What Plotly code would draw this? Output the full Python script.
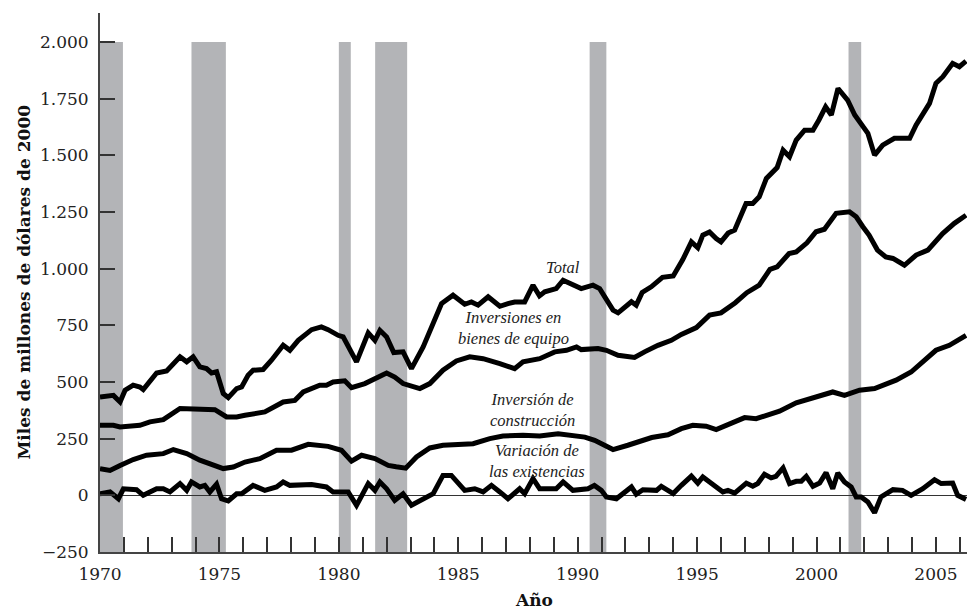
import plotly.graph_objects as go

# ---------------- data ----------------
total_years = [1970.0, 1970.56, 1970.84, 1971.05, 1971.39, 1971.67, 1971.81, 1972.37, 1972.79, 1973.35,
               1973.63, 1973.9, 1974.18, 1974.46, 1974.67, 1974.88, 1975.16, 1975.37, 1975.72, 1975.93,
               1976.2, 1976.41, 1976.83, 1977.18, 1977.67, 1977.95, 1978.3, 1978.86, 1979.27, 1979.55,
               1979.97, 1980.18, 1980.74, 1981.23, 1981.51, 1981.72, 1982.0, 1982.3, 1982.69, 1983.04,
               1983.53, 1983.95, 1984.3, 1984.78, 1985.27, 1985.55, 1985.83, 1986.25, 1986.74, 1987.08,
               1987.36, 1987.78, 1988.13, 1988.4, 1988.62, 1989.1, 1989.39, 1990.15, 1990.64, 1990.92,
               1991.13, 1991.48, 1991.69, 1992.25, 1992.45, 1992.7, 1993.08, 1993.55, 1994.0, 1994.4,
               1994.76, 1995.03, 1995.24, 1995.52, 1995.8, 1996.0, 1996.3, 1996.57, 1997.05, 1997.33,
               1997.6, 1997.9, 1998.35, 1998.6, 1998.87, 1999.15, 1999.5, 1999.85, 2000.1, 2000.38,
               2000.62, 2000.9, 2001.3, 2001.6, 2002.15, 2002.43, 2002.77, 2003.26, 2003.9, 2004.17,
               2004.73, 2005.0, 2005.29, 2005.7, 2005.98, 2006.26]
total_values = [434, 441, 412, 464, 486, 478, 467, 540, 549, 611,
                589, 611, 567, 559, 540, 545, 449, 431, 471, 478,
                530, 552, 555, 596, 662, 640, 684, 731, 743, 731,
                706, 699, 589, 717, 684, 728, 699, 630, 633, 559,
                655, 758, 846, 883, 843, 853, 839, 876, 834, 846,
                853, 853, 927, 880, 898, 912, 949, 912, 927, 912,
                876, 817, 805, 854, 839, 895, 920, 962, 968, 1040,
                1118, 1092, 1148, 1162, 1133, 1118, 1157, 1170, 1288, 1288,
                1317, 1398, 1446, 1523, 1494, 1567, 1611, 1611, 1656, 1714,
                1678, 1795, 1744, 1678, 1597, 1501, 1545, 1575, 1575, 1634,
                1729, 1818, 1847, 1906, 1891, 1916]

equip_years = [1970.0, 1970.56, 1970.84, 1971.67, 1972.09, 1972.65, 1973.35, 1974.05, 1974.81, 1975.3,
               1975.72, 1976.07, 1976.9, 1977.67, 1978.16, 1978.51, 1979.2, 1979.48, 1979.76, 1980.25,
               1980.53, 1981.09, 1981.64, 1982.0, 1982.34, 1982.69, 1983.39, 1983.81, 1984.36, 1984.92,
               1985.48, 1986.04, 1986.74, 1987.36, 1987.71, 1988.41, 1989.04, 1989.53, 1989.95, 1990.15,
               1990.85, 1991.2, 1991.69, 1992.38, 1992.8, 1993.36, 1993.92, 1994.34, 1994.97, 1995.52,
               1996.0, 1996.6, 1997.08, 1997.6, 1998.05, 1998.35, 1998.85, 1999.15, 1999.6, 1999.98,
               2000.33, 2000.82, 2001.38, 2001.66, 2001.94, 2002.2, 2002.55, 2002.9, 2003.2, 2003.68,
               2004.17, 2004.66, 2005.28, 2005.77, 2006.26]
equip_values = [309, 309, 302, 309, 324, 334, 383, 383, 378, 346,
                346, 353, 368, 412, 419, 456, 486, 486, 500, 505,
                475, 493, 520, 540, 522, 493, 471, 493, 552, 593,
                611, 603, 581, 559, 589, 603, 633, 640, 655, 643,
                648, 640, 618, 608, 633, 662, 684, 710, 740, 795,
                805, 850, 894, 927, 997, 1008, 1067, 1074, 1114, 1163,
                1174, 1244, 1251, 1229, 1185, 1148, 1082, 1052, 1045, 1015,
                1060, 1082, 1155, 1200, 1236]

constr_years = [1970.0, 1970.42, 1970.84, 1971.39, 1971.95, 1972.65, 1973.07, 1973.63, 1974.18, 1974.6,
                1975.16, 1975.58, 1976.07, 1976.69, 1977.39, 1978.02, 1978.72, 1979.55, 1980.11, 1980.53,
                1980.95, 1981.51, 1982.07, 1982.4, 1982.8, 1983.25, 1983.81, 1984.36, 1985.62, 1986.32,
                1986.87, 1987.71, 1988.41, 1989.18, 1990.3, 1990.71, 1991.48, 1992.1, 1992.66, 1993.1,
                1993.78, 1994.34, 1994.82, 1995.38, 1995.8, 1996.36, 1996.99, 1997.47, 1998.03, 1998.45,
                1999.15, 1999.7, 2000.26, 2000.68, 2001.17, 2001.8, 2002.43, 2003.05, 2003.33, 2003.96,
                2004.45, 2005.0, 2005.56, 2006.26]
constr_values = [118, 110, 132, 158, 177, 184, 202, 184, 155, 140,
                 118, 125, 147, 162, 199, 199, 225, 216, 199, 151,
                 177, 162, 132, 126, 120, 169, 209, 221, 228, 250,
                 262, 265, 262, 272, 257, 243, 202, 221, 240, 255,
                 267, 294, 309, 305, 290, 316, 343, 338, 356, 371,
                 408, 427, 441, 456, 441, 464, 471, 500, 508, 544,
                 588, 640, 662, 706]

invent_years = [1970.0, 1970.42, 1970.77, 1970.98, 1971.53, 1971.81, 1972.37, 1972.65, 1972.93, 1973.35,
                1973.63, 1973.83, 1974.18, 1974.39, 1974.6, 1974.88, 1975.09, 1975.37, 1975.72, 1975.93,
                1976.41, 1976.9, 1977.39, 1977.67, 1977.95, 1978.86, 1979.48, 1979.76, 1980.39, 1980.74,
                1981.23, 1981.51, 1981.72, 1982.0, 1982.34, 1982.69, 1983.04, 1983.53, 1983.95, 1984.36,
                1984.71, 1985.27, 1985.69, 1986.04, 1986.39, 1986.74, 1987.08, 1987.57, 1987.78, 1988.13,
                1988.41, 1989.1, 1989.39, 1989.8, 1990.43, 1990.7, 1990.99, 1991.2, 1991.62, 1992.25,
                1992.45, 1992.73, 1993.3, 1993.5, 1994.0, 1994.34, 1994.76, 1995.03, 1995.24, 1995.52,
                1996.08, 1996.29, 1996.57, 1997.06, 1997.33, 1997.54, 1997.82, 1998.1, 1998.3, 1998.6,
                1998.87, 1999.15, 1999.36, 1999.57, 1999.85, 2000.13, 2000.4, 2000.68, 2000.89, 2001.17,
                2001.45, 2001.66, 2001.87, 2002.15, 2002.43, 2002.7, 2003.2, 2003.6, 2003.96, 2004.45,
                2004.94, 2005.22, 2005.7, 2005.91, 2006.26]
invent_values = [7, 15, -15, 29, 25, 0, 29, 29, 15, 52,
                 22, 59, 37, 44, 15, 49, -15, -25, 7, 7,
                 44, 22, 37, 59, 44, 48, 37, 15, 15, -44,
                 52, 22, 59, 29, -22, 7, -44, -15, 7, 88,
                 88, 22, 29, 15, 44, 15, -15, 29, 7, 74,
                 29, 29, 59, 22, 29, 44, 22, -7, -15, 37,
                 5, 25, 22, 40, 8, 44, 85, 54, 81, 59,
                 15, 22, 10, 54, 40, 52, 93, 77, 84, 121,
                 52, 62, 62, 84, 40, 54, 100, 29, 99, 59,
                 37, -7, -7, -29, -77, -7, 25, 22, 0, 29,
                 69, 52, 54, 0, -18]

recession_start = [1970.0, 1973.83, 1980.0, 1981.52, 1990.5, 2001.34]
recession_end = [1970.96, 1975.27, 1980.5, 1982.86, 1991.2, 2001.87]

y_ticks = [-250, 0, 250, 500, 750, 1000, 1250, 1500, 1750, 2000]
x_tick_years = list(range(1970, 2007))
x_tick_labels = [str(y) if y % 5 == 0 else "" for y in x_tick_years]

series_labels = ["Total", "Inversiones en<br>bienes de equipo",
                 "Inversión de<br>construcción", "Variación de<br>las existencias"]
label_years = [1989.37, 1987.32, 1988.12, 1988.28]
label_values = [1007, 740, 375, 152]

# ---------------- figure ----------------
fig = go.Figure()
for xs, ys in [(total_years, total_values), (equip_years, equip_values),
               (constr_years, constr_values), (invent_years, invent_values)]:
    fig.add_trace(go.Scatter(x=xs, y=ys, mode="lines",
                             line=dict(color="black", width=5),
                             hoverinfo="skip", showlegend=False))

for x0, x1 in zip(recession_start, recession_end):
    fig.add_shape(type="rect", xref="x", yref="y", x0=x0, x1=x1, y0=-250, y1=2000,
                  fillcolor="#b3b4b7", line=dict(width=0), layer="below")

for txt, lx, ly in zip(series_labels, label_years, label_values):
    fig.add_annotation(x=lx, y=ly, xref="x", yref="y", text="<i>" + txt + "</i>",
                       showarrow=False, align="center",
                       font=dict(family="Liberation Serif", size=16.5, color="#222"))

fig.add_annotation(x=0.5, y=-0.089, xref="paper", yref="paper", text="<b>Año</b>",
                   showarrow=False, xanchor="center", yanchor="middle",
                   font=dict(family="DejaVu Serif", size=17, color="#111"))
fig.add_annotation(x=-0.0888, y=0.5, xref="paper", yref="paper",
                   text="<b>Miles de millones de dólares de 2000</b>", textangle=-90,
                   showarrow=False, xanchor="center", yanchor="middle",
                   font=dict(family="DejaVu Serif", size=17, color="#111"))

fig.update_layout(
    width=968, height=613,
    margin=dict(l=100, r=1, t=13, b=61),
    paper_bgcolor="white", plot_bgcolor="white",
    separators=",.",
    font=dict(family="DejaVu Serif", size=17, color="#222"),
)
fig.update_xaxes(range=[1970, 2006.3], tickmode="array", tickvals=x_tick_years,
                 ticktext=x_tick_labels, ticks="inside", ticklen=15, tickwidth=1.5,
                 tickcolor="#333", showline=True, linecolor="#444", linewidth=2,
                 showgrid=False, zeroline=False, ticklabelstandoff=6)
fig.update_yaxes(range=[-250, 2128], tickmode="array", tickvals=y_ticks, tickformat=",d",
                 ticks="inside", ticklen=15, tickwidth=1.5, tickcolor="#333",
                 showline=True, linecolor="#444", linewidth=2, showgrid=False,
                 zeroline=True, zerolinecolor="#333", zerolinewidth=1, ticklabelstandoff=6)

fig.write_html("out.html", config={"displayModeBar": False},
               post_script="document.body.style.margin='0';document.body.style.overflow='hidden';")
